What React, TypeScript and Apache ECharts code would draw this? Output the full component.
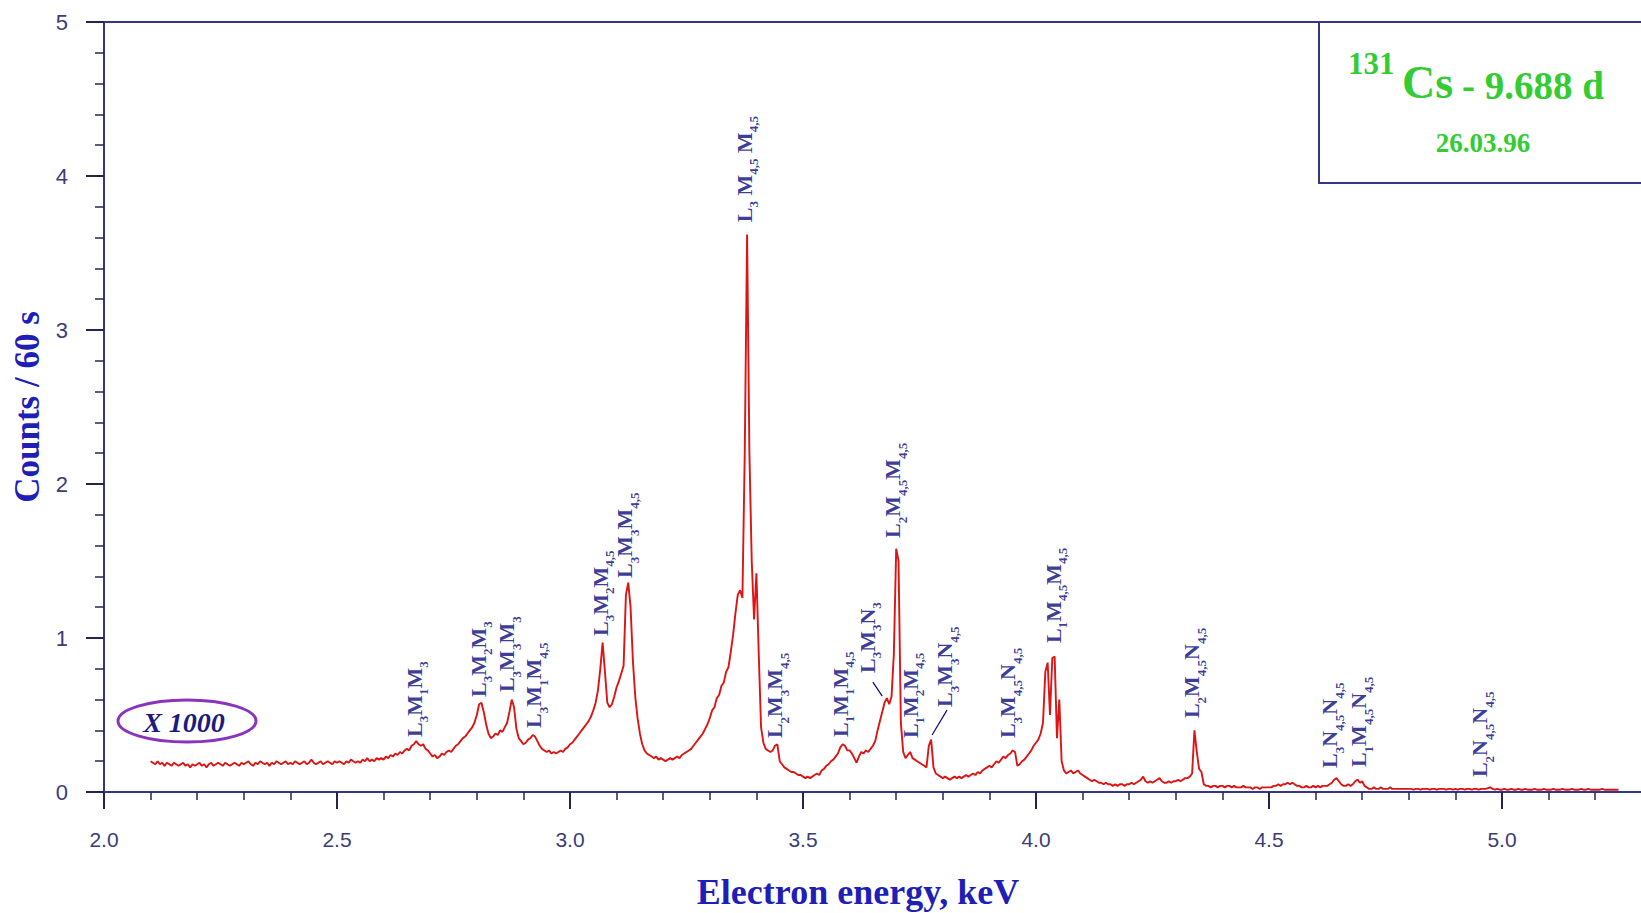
import React, { useEffect, useRef } from "react";
import * as echarts from "echarts";

// ---- channel calibration ----
const CHANNEL_START_KEV = 2.1;
const CHANNEL_WIDTH_KEV = 0.005;

// ---- counts (x1000 per 60 s), one row per 0.1 keV ----
const counts_2_1 = [0.2,0.19,0.18,0.2,0.18,0.19,0.17,0.19,0.18,0.17,0.19,0.18,0.17,0.18,0.19,0.17,0.18,0.16,0.18,0.17];
const counts_2_2 = [0.18,0.19,0.17,0.18,0.16,0.18,0.19,0.17,0.18,0.19,0.18,0.17,0.19,0.18,0.17,0.18,0.19,0.18,0.17,0.19];
const counts_2_3 = [0.18,0.19,0.2,0.18,0.17,0.19,0.18,0.2,0.19,0.18,0.19,0.17,0.19,0.18,0.2,0.19,0.18,0.19,0.2,0.18];
const counts_2_4 = [0.19,0.18,0.2,0.19,0.18,0.19,0.2,0.18,0.19,0.21,0.19,0.18,0.19,0.2,0.18,0.19,0.2,0.19,0.18,0.2];
const counts_2_5 = [0.19,0.2,0.19,0.18,0.2,0.19,0.21,0.2,0.19,0.2,0.19,0.21,0.2,0.22,0.2,0.21,0.2,0.22,0.21,0.22];
const counts_2_6 = [0.21,0.23,0.22,0.24,0.23,0.25,0.24,0.26,0.25,0.27,0.28,0.27,0.3,0.31,0.33,0.31,0.3,0.31,0.28,0.27];
const counts_2_7 = [0.25,0.23,0.24,0.22,0.23,0.25,0.24,0.26,0.27,0.26,0.28,0.3,0.31,0.33,0.35,0.36,0.38,0.4,0.42,0.45];
const counts_2_8 = [0.5,0.57,0.58,0.52,0.44,0.38,0.35,0.36,0.38,0.37,0.4,0.39,0.42,0.45,0.52,0.6,0.55,0.41,0.35,0.33];
const counts_2_9 = [0.31,0.32,0.34,0.35,0.37,0.36,0.33,0.3,0.28,0.27,0.26,0.27,0.25,0.26,0.25,0.26,0.27,0.26,0.28,0.29];
const counts_3_0 = [0.31,0.32,0.34,0.36,0.38,0.4,0.42,0.44,0.46,0.49,0.53,0.58,0.66,0.8,0.97,0.78,0.58,0.55,0.57,0.62];
const counts_3_1 = [0.68,0.72,0.77,0.82,1.28,1.36,1.2,0.85,0.62,0.48,0.38,0.31,0.27,0.25,0.24,0.23,0.22,0.23,0.21,0.22];
const counts_3_2 = [0.21,0.2,0.21,0.22,0.21,0.22,0.23,0.22,0.24,0.25,0.26,0.27,0.28,0.3,0.32,0.34,0.36,0.38,0.41,0.44];
const counts_3_3 = [0.48,0.53,0.55,0.61,0.63,0.69,0.71,0.78,0.81,0.91,1.02,1.16,1.28,1.31,1.26,2.2,3.62,2.2,1.5,1.12];
const counts_3_4 = [1.42,0.9,0.42,0.32,0.28,0.27,0.26,0.27,0.3,0.31,0.2,0.18,0.16,0.15,0.14,0.13,0.13,0.12,0.11,0.11];
const counts_3_5 = [0.1,0.09,0.1,0.09,0.1,0.11,0.12,0.11,0.14,0.15,0.17,0.18,0.2,0.21,0.23,0.25,0.29,0.31,0.3,0.27];
const counts_3_6 = [0.27,0.25,0.22,0.19,0.23,0.26,0.25,0.27,0.26,0.28,0.3,0.33,0.4,0.46,0.52,0.58,0.61,0.57,0.62,0.9];
const counts_3_7 = [1.58,1.5,0.45,0.26,0.22,0.24,0.26,0.22,0.21,0.2,0.19,0.18,0.17,0.16,0.3,0.34,0.16,0.12,0.11,0.1];
const counts_3_8 = [0.09,0.1,0.09,0.08,0.09,0.1,0.09,0.1,0.09,0.1,0.11,0.1,0.11,0.12,0.11,0.13,0.12,0.14,0.15,0.16];
const counts_3_9 = [0.17,0.16,0.18,0.2,0.19,0.21,0.23,0.22,0.24,0.25,0.27,0.26,0.17,0.18,0.2,0.21,0.23,0.25,0.27,0.3];
const counts_4_0 = [0.32,0.34,0.38,0.45,0.78,0.84,0.5,0.87,0.88,0.35,0.6,0.2,0.14,0.12,0.13,0.14,0.12,0.13,0.14,0.12];
const counts_4_1 = [0.11,0.1,0.09,0.08,0.07,0.08,0.07,0.06,0.06,0.05,0.06,0.05,0.05,0.04,0.05,0.04,0.05,0.05,0.04,0.05];
const counts_4_2 = [0.05,0.06,0.05,0.06,0.07,0.08,0.1,0.07,0.06,0.07,0.06,0.07,0.08,0.09,0.07,0.06,0.06,0.07,0.06,0.07];
const counts_4_3 = [0.07,0.08,0.07,0.08,0.09,0.09,0.1,0.12,0.4,0.26,0.15,0.13,0.05,0.04,0.04,0.03,0.04,0.04,0.03,0.04];
const counts_4_4 = [0.04,0.03,0.04,0.04,0.03,0.04,0.03,0.03,0.03,0.04,0.03,0.03,0.03,0.02,0.03,0.03,0.02,0.03,0.03,0.03];
const counts_4_5 = [0.03,0.03,0.04,0.04,0.05,0.04,0.05,0.05,0.06,0.05,0.06,0.05,0.04,0.04,0.03,0.03,0.04,0.03,0.03,0.04];
const counts_4_6 = [0.03,0.04,0.03,0.04,0.04,0.04,0.05,0.06,0.08,0.09,0.07,0.05,0.04,0.04,0.05,0.04,0.05,0.07,0.08,0.06];
const counts_4_7 = [0.07,0.04,0.03,0.02,0.02,0.03,0.02,0.02,0.03,0.02,0.02,0.02,0.03,0.02,0.02,0.02,0.02,0.02,0.02,0.02];
const counts_4_8 = [0.02,0.02,0.015,0.02,0.02,0.015,0.02,0.02,0.02,0.015,0.02,0.02,0.015,0.02,0.02,0.02,0.015,0.02,0.02,0.015];
const counts_4_9 = [0.02,0.015,0.02,0.02,0.015,0.02,0.02,0.015,0.02,0.02,0.015,0.02,0.02,0.02,0.025,0.03,0.02,0.015,0.02,0.015];
const counts_5_0 = [0.015,0.02,0.015,0.015,0.02,0.015,0.015,0.02,0.015,0.015,0.02,0.015,0.015,0.015,0.02,0.015,0.015,0.015,0.02,0.015];
const counts_5_1 = [0.015,0.015,0.02,0.015,0.015,0.015,0.02,0.015,0.015,0.015,0.02,0.015,0.015,0.015,0.02,0.015,0.015,0.02,0.015,0.015];
const counts_5_2 = [0.015,0.015,0.015,0.02,0.015,0.015,0.015,0.015,0.015,0.015,0.015];

const counts = [
  ...counts_2_1, ...counts_2_2, ...counts_2_3, ...counts_2_4, ...counts_2_5,
  ...counts_2_6, ...counts_2_7, ...counts_2_8, ...counts_2_9, ...counts_3_0,
  ...counts_3_1, ...counts_3_2, ...counts_3_3, ...counts_3_4, ...counts_3_5,
  ...counts_3_6, ...counts_3_7, ...counts_3_8, ...counts_3_9, ...counts_4_0,
  ...counts_4_1, ...counts_4_2, ...counts_4_3, ...counts_4_4, ...counts_4_5,
  ...counts_4_6, ...counts_4_7, ...counts_4_8, ...counts_4_9, ...counts_5_0,
  ...counts_5_1, ...counts_5_2,
];

// ---- peak labels: [main, subscript] pairs; anchor = bottom of label (keV, counts) ----
const peakNames: [string, string][][] = [
  [["L", "3"], ["M", "1"], ["M", "3"]],
  [["L", "3"], ["M", "2"], ["M", "3"]],
  [["L", "3"], ["M", "3"], ["M", "3"]],
  [["L", "3"], ["M", "1"], ["M", "4,5"]],
  [["L", "3"], ["M", "2"], ["M", "4,5"]],
  [["L", "3"], ["M", "3"], ["M", "4,5"]],
  [["L", "3"], [" ", ""], ["M", "4,5"], [" ", ""], ["M", "4,5"]],
  [["L", "2"], ["M", "3"], ["M", "4,5"]],
  [["L", "1"], ["M", "1"], ["M", "4,5"]],
  [["L", "3"], ["M", "3"], ["N", "3"]],
  [["L", "2"], ["M", "4,5"], ["M", "4,5"]],
  [["L", "1"], ["M", "2"], ["M", "4,5"]],
  [["L", "3"], ["M", "3"], ["N", "4,5"]],
  [["L", "3"], ["M", "4,5"], ["N", "4,5"]],
  [["L", "1"], ["M", "4,5"], ["M", "4,5"]],
  [["L", "2"], ["M", "4,5"], ["N", "4,5"]],
  [["L", "3"], ["N", "4,5"], ["N", "4,5"]],
  [["L", "1"], ["M", "4,5"], ["N", "4,5"]],
  [["L", "2"], ["N", "4,5"], ["N", "4,5"]],
];
const peakLabelEnergy = [2.671, 2.808, 2.870, 2.928, 3.070, 3.123, 3.379, 3.445, 3.585, 3.643, 3.698, 3.735, 3.810, 3.945, 4.042, 4.340, 4.636, 4.698, 4.958];
const peakLabelCounts = [0.357, 0.617, 0.649, 0.416, 1.013, 1.39, 3.70, 0.35, 0.357, 0.773, 1.65, 0.35, 0.552, 0.35, 0.968, 0.48, 0.156, 0.162, 0.097];

// leader lines: [x1, y1, x2, y2]
const leaderLines = [
  [3.650, 0.714, 3.670, 0.623],
  [3.809, 0.532, 3.777, 0.370],
];

// ---- axes ----
const xMin = 2.0, xMax = 5.5, xStep = 0.5;
const yMin = 0, yMax = 5, yStep = 1;
const xLastLabel = 5.0;

const AXIS_COLOR = "#35358a";
const TICK_COLOR = "#24244e";
const TICK_LABEL_COLOR = "#3c3c78";
const TITLE_BLUE = "#1f1fb8";
const LABEL_BLUE = "#08087c";
const GREEN = "#33cc33";
const SERIF = '"Liberation Serif", "Times New Roman", serif';
const SANS = '"Liberation Sans", Arial, sans-serif';

const textStyle = (extra: any) => ({
  fontWeight: "bold",
  fontFamily: SERIF,
  verticalAlign: "middle",
  textVerticalAlign: "middle",
  ...extra,
});

export default function App() {
  const ref = useRef<HTMLDivElement>(null);
  useEffect(() => {
    if (!ref.current) return;
    const chart = echarts.init(ref.current, null, { renderer: "svg" });

    const spectrum = counts.map((c, i) => [
      +(CHANNEL_START_KEV + i * CHANNEL_WIDTH_KEV).toFixed(3),
      c,
    ]);

    const labelItems = peakNames.map((parts, i) => ({
      value: [peakLabelEnergy[i], peakLabelCounts[i]],
      rt: parts
        .map(([m, s]) => (s ? `{m|${m}}{s|${s}}` : `{m|${m}}`))
        .join(""),
    }));

    chart.setOption({
      animation: false,
      backgroundColor: "#ffffff",
      grid: {
        left: 104,
        top: 22,
        right: 0,
        bottom: 121,
        outerBoundsMode: "none",
        containLabel: false,
        show: true,
        borderColor: AXIS_COLOR,
        borderWidth: 2,
        backgroundColor: "transparent",
      },
      xAxis: {
        type: "value",
        min: xMin,
        max: xMax,
        interval: xStep,
        axisLine: { show: true, onZero: false, lineStyle: { color: AXIS_COLOR, width: 2 } },
        axisTick: { show: true, length: 17, lineStyle: { color: TICK_COLOR, width: 2 } },
        minorTick: { show: true, splitNumber: 5, length: 8, lineStyle: { color: TICK_COLOR, width: 1.5 } },
        splitLine: { show: false },
        minorSplitLine: { show: false },
        axisLabel: {
          margin: 37,
          color: TICK_LABEL_COLOR,
          fontFamily: SANS,
          fontSize: 21,
          formatter: (v: number) => (v > xLastLabel + 1e-9 ? "" : v.toFixed(1)),
        },
      },
      yAxis: {
        type: "value",
        min: yMin,
        max: yMax,
        interval: yStep,
        name: "Counts / 60 s",
        nameLocation: "middle",
        nameGap: 50,
        nameRotate: 90,
        nameTextStyle: { color: TITLE_BLUE, fontFamily: SERIF, fontWeight: "bold", fontSize: 35 },
        axisLine: { show: true, onZero: false, lineStyle: { color: AXIS_COLOR, width: 2 } },
        axisTick: { show: true, length: 18, lineStyle: { color: TICK_COLOR, width: 2 } },
        minorTick: { show: true, splitNumber: 5, length: 9, lineStyle: { color: TICK_COLOR, width: 1.5 } },
        splitLine: { show: false },
        minorSplitLine: { show: false },
        axisLabel: {
          margin: 36,
          color: TICK_LABEL_COLOR,
          fontFamily: SANS,
          fontSize: 22,
        },
      },
      series: [
        {
          type: "line",
          data: spectrum,
          showSymbol: false,
          silent: true,
          lineStyle: { color: "#dd1414", width: 1.9 },
          z: 3,
        },
        {
          type: "scatter",
          data: labelItems,
          symbolSize: 1,
          silent: true,
          itemStyle: { color: "rgba(0,0,0,0)" },
          z: 4,
          label: {
            show: true,
            position: "inside",
            rotate: 90,
            align: "left",
            verticalAlign: "middle",
            color: LABEL_BLUE,
            formatter: (p: any) => p.data.rt,
            rich: {
              m: {
                fontSize: 22,
                fontWeight: "bold",
                fontFamily: SERIF,
                color: LABEL_BLUE,
                padding: [0, 0, 5, 0],
                verticalAlign: "bottom",
              },
              s: {
                fontSize: 13,
                fontWeight: "bold",
                fontFamily: SERIF,
                color: LABEL_BLUE,
                verticalAlign: "bottom",
              },
            },
          },
          markLine: {
            silent: true,
            symbol: "none",
            label: { show: false },
            lineStyle: { color: LABEL_BLUE, width: 1.2, type: "solid" },
            data: leaderLines.map(([x1, y1, x2, y2]) => [
              { coord: [x1, y1] },
              { coord: [x2, y2] },
            ]),
          },
        },
      ],
      graphic: [
        {
          type: "ellipse",
          shape: { cx: 187, cy: 721, rx: 69, ry: 21 },
          style: { fill: "none", stroke: "#8a34be", lineWidth: 3 },
          z: 10,
        },
        {
          type: "text",
          x: 184,
          y: 722,
          style: textStyle({
            text: "X 1000",
            fontSize: 28,
            fontStyle: "italic",
            fill: "#1c1c7a",
            align: "center",
            textAlign: "center",
          }),
          z: 10,
        },
        {
          type: "rect",
          shape: { x: 1319, y: 22, width: 500, height: 161 },
          style: { fill: "#ffffff", stroke: AXIS_COLOR, lineWidth: 2 },
          z: 10,
        },
        {
          type: "text",
          x: 1348,
          y: 63,
          style: textStyle({ text: "131", fontSize: 31, fill: GREEN, align: "left", textAlign: "left" }),
          z: 11,
        },
        {
          type: "text",
          x: 1402,
          y: 82,
          style: textStyle({ text: "Cs", fontSize: 46, fill: GREEN, align: "left", textAlign: "left" }),
          z: 11,
        },
        {
          type: "text",
          x: 1462,
          y: 85,
          style: textStyle({ text: "- 9.688 d", fontSize: 39, fill: GREEN, align: "left", textAlign: "left" }),
          z: 11,
        },
        {
          type: "text",
          x: 1483,
          y: 143,
          style: textStyle({ text: "26.03.96", fontSize: 27, fill: GREEN, align: "center", textAlign: "center" }),
          z: 11,
        },
        {
          type: "text",
          x: 858,
          y: 892,
          style: textStyle({ text: "Electron energy, keV", fontSize: 36, fill: TITLE_BLUE, align: "center", textAlign: "center" }),
          z: 11,
        },
      ],
    });

    return () => chart.dispose();
  }, []);

  return (
    <div
      style={{ position: "absolute", left: 0, top: 0, width: 1641, height: 913, overflow: "hidden", background: "#fff" }}
    >
      <div ref={ref} style={{ width: 1735, height: 913 }} />
    </div>
  );
}
